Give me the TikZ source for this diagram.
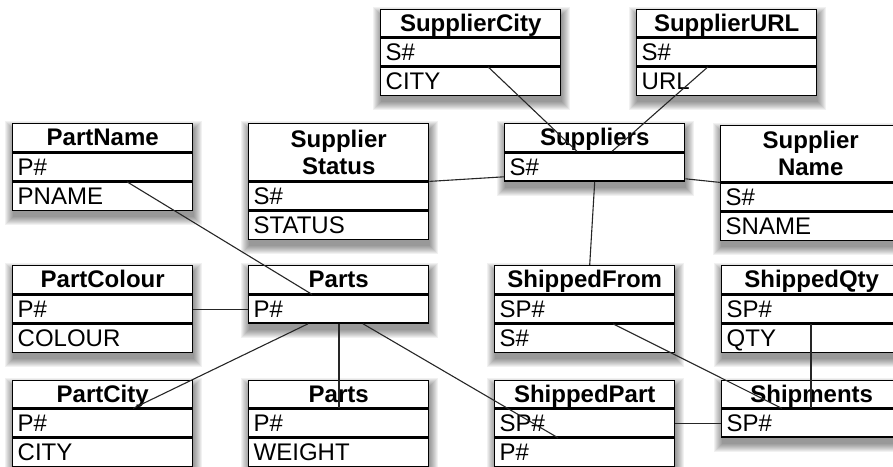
\documentclass[tikz,border=0pt]{standalone}
\usepackage{fontspec}
\setmainfont{Liberation Sans}
\usetikzlibrary{calc,backgrounds}
\tikzset{
  cell/.style={draw=black, line width=1.4pt, fill=white, anchor=north west,
    minimum width=180pt, text width=170pt, inner xsep=5pt, inner ysep=0pt, minimum height=28pt},
  hdr/.style={cell, align=center, font=\fontsize{24}{27}\selectfont\bfseries},
  onehdr/.style={hdr, text height=20pt, text depth=4pt},
  shorthdr/.style={onehdr, minimum height=27pt, text height=19.5pt, text depth=3.5pt},
  row/.style={cell, align=left, font=\fontsize{24}{27}\selectfont, text height=20pt, text depth=4pt},
  link/.style={draw=black!85, line width=1.1pt},
}
\newcommand\ershadow[2]{%
  \begin{pgfonlayer}{background}
  \foreach \s in {0,...,8}{
    \fill[black,opacity=0.055] ([shift={(1-\s,6-\s)}]#1.north west) rectangle ([shift={(1+\s,6+\s)}]#2.south east);
  }
  \end{pgfonlayer}}
\begin{document}
\begin{tikzpicture}[x=1pt,y=-1pt]
\useasboundingbox (0,0) rectangle (893,466);
\clip (0,0) rectangle (893,466);

% top row
\node[shorthdr] (scity) at (380,9) {SupplierCity};
\node[row] (scity-1) at (scity.south west) {S\#};
\node[row] (scity-2) at (scity-1.south west) {CITY};
\ershadow{scity}{scity-2}

\node[shorthdr] (surl) at (636,9) {SupplierURL};
\node[row] (surl-1) at (surl.south west) {S\#};
\node[row] (surl-2) at (surl-1.south west) {URL};
\ershadow{surl}{surl-2}

% second row
\node[onehdr] (pname) at (12,123) {PartName};
\node[row] (pname-1) at (pname.south west) {P\#};
\node[row] (pname-2) at (pname-1.south west) {PNAME};
\ershadow{pname}{pname-2}

\node[hdr, minimum height=57pt] (sstat) at (248,123) {Supplier\\Status};
\node[row] (sstat-1) at (sstat.south west) {S\#};
\node[row] (sstat-2) at (sstat-1.south west) {STATUS};
\ershadow{sstat}{sstat-2}

\node[onehdr] (supp) at (504,123) {Suppliers};
\node[row] (supp-1) at (supp.south west) {S\#};
\ershadow{supp}{supp-1}

\node[hdr, minimum height=56pt] (sname) at (720,125) {Supplier\\Name};
\node[row] (sname-1) at (sname.south west) {S\#};
\node[row] (sname-2) at (sname-1.south west) {SNAME};
\ershadow{sname}{sname-2}

% third row
\node[onehdr] (pcol) at (12,265) {PartColour};
\node[row] (pcol-1) at (pcol.south west) {P\#};
\node[row] (pcol-2) at (pcol-1.south west) {COLOUR};
\ershadow{pcol}{pcol-2}

\node[onehdr] (parts) at (248,265) {Parts};
\node[row] (parts-1) at (parts.south west) {P\#};
\ershadow{parts}{parts-1}

\node[onehdr] (sfrom) at (494,265) {ShippedFrom};
\node[row] (sfrom-1) at (sfrom.south west) {SP\#};
\node[row] (sfrom-2) at (sfrom-1.south west) {S\#};
\ershadow{sfrom}{sfrom-2}

\node[onehdr] (sqty) at (721,265) {ShippedQty};
\node[row] (sqty-1) at (sqty.south west) {SP\#};
\node[row] (sqty-2) at (sqty-1.south west) {QTY};
\ershadow{sqty}{sqty-2}

% bottom row
\node[shorthdr] (pcity) at (12,380) {PartCity};
\node[row] (pcity-1) at (pcity.south west) {P\#};
\node[row] (pcity-2) at (pcity-1.south west) {CITY};
\ershadow{pcity}{pcity-2}

\node[shorthdr] (pwt) at (248,380) {Parts};
\node[row] (pwt-1) at (pwt.south west) {P\#};
\node[row] (pwt-2) at (pwt-1.south west) {WEIGHT};
\ershadow{pwt}{pwt-2}

\node[shorthdr] (spart) at (494,380) {ShippedPart};
\node[row] (spart-1) at (spart.south west) {SP\#};
\node[row] (spart-2) at (spart-1.south west) {P\#};
\ershadow{spart}{spart-2}

\node[shorthdr] (ship) at (721,380) {Shipments};
\node[row] (ship-1) at (ship.south west) {SP\#};
\ershadow{ship}{ship-1}

% connectors
\draw[link] ($(scity-1.south west)+(108,0)$) -- ($(supp.south west)+(73,-1)$);
\draw[link] ($(surl-1.south west)+(72,0)$) -- ($(supp.south west)+(108,-1)$);
\draw[link] (sstat.south east) -- ($(supp-1.south west)+(0,-5)$);
\draw[link] ($(supp-1.south east)+(0,-3)$) -- (sname.south west);
\draw[link] (supp-1.south) -- ($(sfrom.north)+(5,0)$);
\draw[link] ($(pname-1.south west)+(115,0)$) -- ($(parts.south west)+(64,0)$);
\draw[link] (pcol-1.east) -- (parts-1.west);
\draw[link] ($(parts-1.south west)+(60,0)$) -- ($(pcity.south west)+(121,0)$);
\draw[link] ($(parts-1.south west)+(91,0)$) -- ($(pwt.south west)+(91,0)$);
\draw[link] ($(parts-1.south west)+(115,0)$) -- ($(spart-1.south west)+(64,0)$);
\draw[link] ($(sfrom-1.south west)+(119,0)$) -- ($(ship.south west)+(61,0)$);
\draw[link] ($(sqty-1.south west)+(90,0)$) -- ($(ship.south west)+(90,0)$);
\draw[link] (spart-1.east) -- (ship-1.west);
\end{tikzpicture}
\end{document}
